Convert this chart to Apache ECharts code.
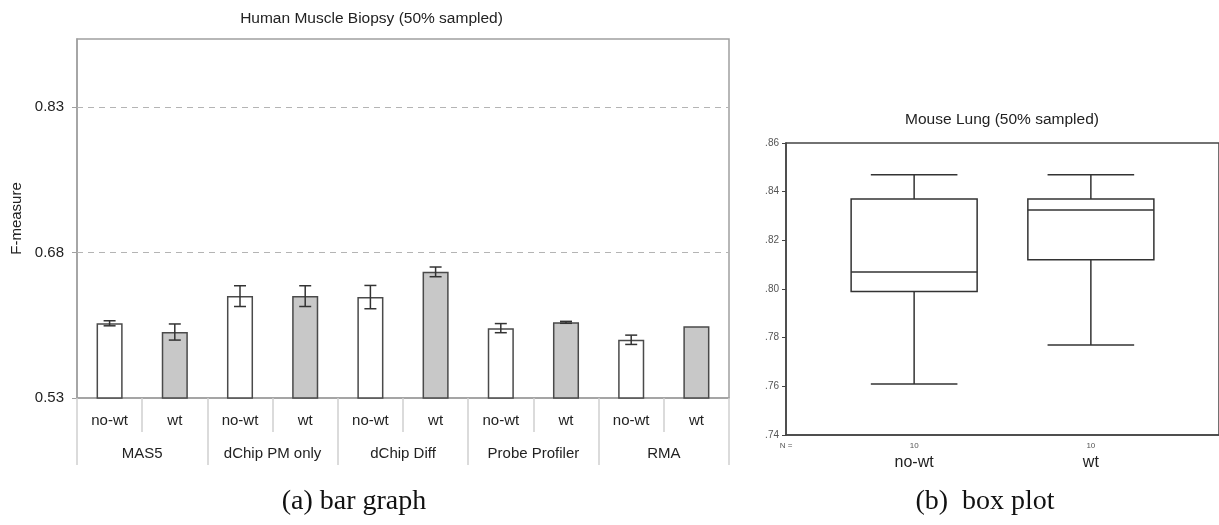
<!DOCTYPE html>
<html>
<head>
<meta charset="utf-8">
<script src="https://cdn.jsdelivr.net/npm/echarts@6/dist/echarts.min.js"></script>
<style>
html,body{margin:0;padding:0;background:#fff;}
#chart{width:1219px;height:525px;}
</style>
</head>
<body>
<div id="chart"></div>
<script>
// ---------- data (a) bar graph ----------
const groups = ['MAS5', 'dChip PM only', 'dChip Diff', 'Probe Profiler', 'RMA'];
const subLabels = ['no-wt', 'wt', 'no-wt', 'wt', 'no-wt', 'wt', 'no-wt', 'wt', 'no-wt', 'wt'];
const barValues = [0.607, 0.598, 0.635, 0.635, 0.634, 0.660, 0.602, 0.608, 0.590, 0.604];
const barErrors = [0.0026, 0.0083, 0.0107, 0.0107, 0.012, 0.005, 0.0047, 0.001, 0.0048, 0];
const barTicks = [0.53, 0.68, 0.83];
const barYMin = 0.53, barYMax = 0.90;

// ---------- data (b) box plot ----------
const boxCategories = ['no-wt', 'wt'];
const boxN = [10, 10];
// [min, q1, median, q3, max]
const boxStats = [
  [0.761, 0.799, 0.807, 0.837, 0.847],
  [0.777, 0.812, 0.8325, 0.837, 0.847]
];
const boxYMin = 0.74, boxYMax = 0.86, boxYInterval = 0.02;

const sans = "'Liberation Sans', Arial, sans-serif";
const serif = "'Liberation Serif', 'Times New Roman', serif";

const chart = echarts.init(document.getElementById('chart'), null, {renderer: 'canvas'});

const errData = barValues.map((v, i) => [i, v - barErrors[i], v + barErrors[i]]);
const boxData = boxStats.map((s, i) => [i].concat(s));

const option = {
  animation: false,
  backgroundColor: '#fff',
  grid: [
    {left: 77, right: 490, top: 39, bottom: 127, show: true, borderColor: '#a0a0a0', borderWidth: 1.5, backgroundColor: 'transparent'},
    {left: 786, right: 0, top: 143, bottom: 90, show: true, borderColor: '#444', borderWidth: 1.5, backgroundColor: 'transparent'}
  ],
  xAxis: [
    {
      type: 'category', gridIndex: 0, data: subLabels, position: 'bottom',
      axisLine: {show: true, lineStyle: {color: '#a0a0a0', width: 1.5}},
      axisTick: {show: true, length: 34, interval: 0, lineStyle: {color: '#d0d0d0', width: 1.5}},
      axisLabel: {interval: 0, margin: 15, fontFamily: sans, fontSize: 15, color: '#222'},
      splitLine: {show: false}
    },
    {
      type: 'category', gridIndex: 0, data: groups, position: 'bottom',
      axisLine: {show: false},
      axisTick: {show: true, length: 67, interval: 0, lineStyle: {color: '#d0d0d0', width: 1.5}},
      axisLabel: {interval: 0, margin: 48, fontFamily: sans, fontSize: 15, color: '#222'},
      splitLine: {show: false}
    },
    {
      type: 'value', gridIndex: 1, min: -0.725, max: 1.725,
      axisLine: {show: true, onZero: false, lineStyle: {color: '#444', width: 1.5}},
      axisTick: {show: false},
      splitLine: {show: false},
      axisLabel: {
        customValues: boxCategories.map((c, i) => i),
        margin: 6,
        formatter: v => '{n|' + boxN[Math.round(v)] + '}\n{c|' + boxCategories[Math.round(v)] + '}',
        rich: {
          n: {fontFamily: sans, fontSize: 8, color: '#555', lineHeight: 10, align: 'center'},
          c: {fontFamily: sans, fontSize: 16, color: '#222', lineHeight: 24, align: 'center'}
        }
      }
    }
  ],
  yAxis: [
    {
      type: 'value', gridIndex: 0, min: barYMin, max: barYMax,
      name: 'F-measure', nameLocation: 'middle', nameRotate: 90, nameGap: 52,
      nameTextStyle: {fontFamily: sans, fontSize: 15, color: '#222'},
      axisLine: {show: true, onZero: false, lineStyle: {color: '#a0a0a0', width: 1.5}},
      axisTick: {show: true, customValues: barTicks, length: 5, lineStyle: {color: '#a0a0a0'}},
      axisLabel: {customValues: barTicks, formatter: v => v.toFixed(2), margin: 13, fontFamily: sans, fontSize: 15, color: '#222'},
      splitLine: {show: false}
    },
    {
      type: 'value', gridIndex: 1, min: boxYMin, max: boxYMax, interval: boxYInterval,
      axisLine: {show: true, onZero: false, lineStyle: {color: '#444', width: 1.5}},
      axisTick: {show: true, length: 4, lineStyle: {color: '#444'}},
      axisLabel: {formatter: v => v.toFixed(2).replace(/^0/, ''), margin: 7, fontFamily: sans, fontSize: 10, color: '#555'},
      splitLine: {show: false}
    }
  ],
  graphic: [
    {type: 'text', x: 371.5, y: 19, style: {text: 'Human Muscle Biopsy (50% sampled)', font: '15.5px ' + sans, fill: '#222', textAlign: 'center', textVerticalAlign: 'middle'}},
    {type: 'text', x: 1002, y: 120, style: {text: 'Mouse Lung (50% sampled)', font: '15.5px ' + sans, fill: '#222', textAlign: 'center', textVerticalAlign: 'middle'}},
    {type: 'text', x: 786, y: 446, style: {text: 'N =', font: '8px ' + sans, fill: '#555', textAlign: 'center', textVerticalAlign: 'middle'}},
    {type: 'text', x: 354, y: 502, style: {text: '(a) bar graph', font: '28px ' + serif, fill: '#111', textAlign: 'center', textVerticalAlign: 'middle'}},
    {type: 'text', x: 985, y: 502, style: {text: '(b)  box plot', font: '28px ' + serif, fill: '#111', textAlign: 'center', textVerticalAlign: 'middle'}}
  ],
  series: [
    {
      type: 'bar', xAxisIndex: 0, yAxisIndex: 0, barWidth: '40%',
      data: barValues.map((v, i) => ({
        value: v,
        itemStyle: {color: subLabels[i] === 'wt' ? '#c8c8c8' : '#ffffff'}
      })),
      itemStyle: {borderColor: '#4a4a4a', borderWidth: 1.5},
      markLine: {
        silent: true, symbol: 'none', label: {show: false},
        lineStyle: {type: [6, 5], color: '#b4b4b4', width: 1},
        data: barTicks.filter(t => t > barYMin).map(t => ({yAxis: t}))
      },
      z: 2
    },
    {
      type: 'custom', xAxisIndex: 0, yAxisIndex: 0,
      data: errData,
      encode: {x: 0, y: [1, 2]},
      z: 5,
      renderItem: function (params, api) {
        const x = api.value(0), lo = api.value(1), hi = api.value(2);
        if (hi - lo < 1e-9) return null;
        const p1 = api.coord([x, lo]), p2 = api.coord([x, hi]);
        const hw = 6;
        const st = {stroke: '#333', lineWidth: 1.5};
        return {type: 'group', children: [
          {type: 'line', shape: {x1: p1[0], y1: p1[1], x2: p2[0], y2: p2[1]}, style: st},
          {type: 'line', shape: {x1: p1[0] - hw, y1: p1[1], x2: p1[0] + hw, y2: p1[1]}, style: st},
          {type: 'line', shape: {x1: p2[0] - hw, y1: p2[1], x2: p2[0] + hw, y2: p2[1]}, style: st}
        ]};
      }
    },
    {
      type: 'custom', xAxisIndex: 2, yAxisIndex: 1,
      data: boxData,
      encode: {x: 0, y: [1, 2, 3, 4, 5]},
      z: 5,
      renderItem: function (params, api) {
        const x = api.value(0);
        const mn = api.coord([x, api.value(1)]);
        const q1 = api.coord([x, api.value(2)]);
        const md = api.coord([x, api.value(3)]);
        const q3 = api.coord([x, api.value(4)]);
        const mx = api.coord([x, api.value(5)]);
        const unit = api.size([1, 0])[0];
        const bw = unit * 0.713, cw = unit * 0.49;
        const cx = mn[0];
        const st = {stroke: '#333', lineWidth: 1.5, fill: null};
        return {type: 'group', children: [
          {type: 'line', shape: {x1: cx, y1: mx[1], x2: cx, y2: q3[1]}, style: st},
          {type: 'line', shape: {x1: cx, y1: q1[1], x2: cx, y2: mn[1]}, style: st},
          {type: 'line', shape: {x1: cx - cw / 2, y1: mx[1], x2: cx + cw / 2, y2: mx[1]}, style: st},
          {type: 'line', shape: {x1: cx - cw / 2, y1: mn[1], x2: cx + cw / 2, y2: mn[1]}, style: st},
          {type: 'rect', shape: {x: cx - bw / 2, y: q3[1], width: bw, height: q1[1] - q3[1]}, style: {stroke: '#333', lineWidth: 1.5, fill: '#fff'}},
          {type: 'line', shape: {x1: cx - bw / 2, y1: md[1], x2: cx + bw / 2, y2: md[1]}, style: st}
        ]};
      }
    }
  ]
};
chart.setOption(option);
</script>
</body>
</html>
